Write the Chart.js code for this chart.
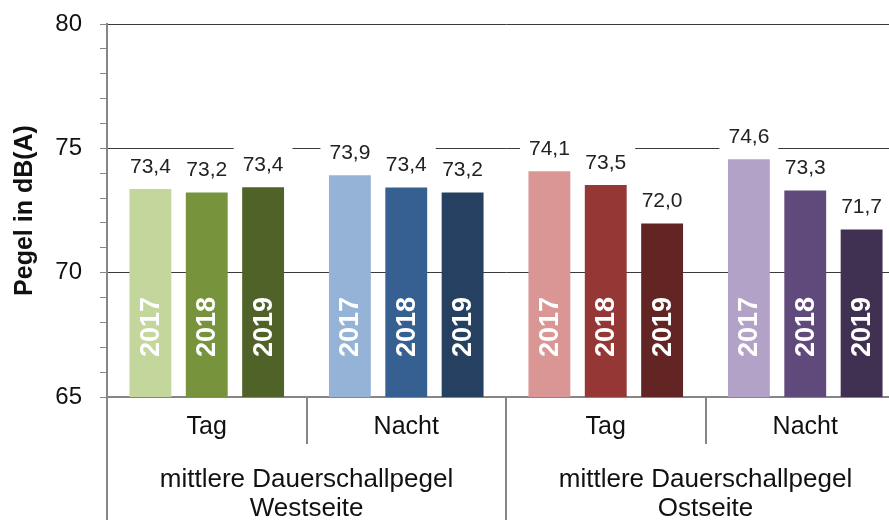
<!DOCTYPE html>
<html>
<head>
<meta charset="utf-8">
<script src="https://cdn.jsdelivr.net/npm/chart.js@4.4.0/dist/chart.umd.min.js"></script>
<style>
  body { margin: 0; overflow: hidden; background: #fff; }
</style>
</head>
<body>
<canvas id="pegelChart" width="905" height="520"></canvas>
<script>
const groups = ["Tag", "Nacht", "Tag", "Nacht"];
const sides = [["mittlere Dauerschallpegel", "Westseite"], ["mittlere Dauerschallpegel", "Ostseite"]];
const years = ["2017", "2018", "2019"];
const values2017 = [73.36, 73.92, 74.08, 74.56];
const values2018 = [73.22, 73.42, 73.53, 73.30];
const values2019 = [73.44, 73.22, 71.98, 71.74];
const colors2017 = ["#c3d69b", "#95b3d7", "#d99694", "#b3a2c7"];
const colors2018 = ["#77933c", "#376092", "#953735", "#604a7b"];
const colors2019 = ["#4f6228", "#254061", "#632523", "#403152"];
const yMin = 65;
const yMax = 80;

const FONT = '"Liberation Sans", Arial, sans-serif';
const AXIS_GRAY = "#868686";

// value labels above bars (white box hides the gridline) + year inside bars
const barLabels = {
  id: "barLabels",
  afterDatasetsDraw(chart) {
    const ctx = chart.ctx;
    const base = chart.scales.y.getPixelForValue(yMin);
    ctx.save();
    chart.data.datasets.forEach((ds, i) => {
      chart.getDatasetMeta(i).data.forEach((bar, j) => {
        ctx.save();
        ctx.translate(bar.x, base - 40);
        ctx.rotate(-Math.PI / 2);
        ctx.font = "bold 27px " + FONT;
        ctx.fillStyle = "#ffffff";
        ctx.textAlign = "left";
        ctx.textBaseline = "middle";
        ctx.fillText(ds.label, 0, 1);
        ctx.restore();

        const txt = ds.data[j].toFixed(1).replace(".", ",");
        ctx.font = "21px " + FONT;
        const w = ctx.measureText(txt).width + 18;
        ctx.fillStyle = "#ffffff";
        ctx.fillRect(bar.x - w / 2, bar.y - 40, w, 36);
        ctx.fillStyle = "#222222";
        ctx.textAlign = "center";
        ctx.textBaseline = "middle";
        ctx.fillText(txt, bar.x, bar.y - 22);
      });
    });
    ctx.restore();
  }
};

// second level of the category axis and the separators
const groupAxis = {
  id: "groupAxis",
  afterDraw(chart) {
    const ctx = chart.ctx;
    const area = chart.chartArea;
    const x = chart.scales.x;
    const step = (area.right - area.left) / groups.length;
    ctx.save();
    ctx.strokeStyle = AXIS_GRAY;
    ctx.lineWidth = 2;
    for (let i = 0; i <= groups.length; i++) {
      const px = Math.round(area.left + i * step);
      const full = i % 2 === 0;
      ctx.beginPath();
      ctx.moveTo(px, area.bottom);
      ctx.lineTo(px, full ? chart.height : area.bottom + 47);
      ctx.stroke();
    }
    ctx.fillStyle = "#111111";
    ctx.font = "26px " + FONT;
    ctx.textAlign = "center";
    ctx.textBaseline = "alphabetic";
    sides.forEach((lines, k) => {
      const cx = (x.getPixelForValue(k * 2) + x.getPixelForValue(k * 2 + 1)) / 2;
      lines.forEach((line, n) => {
        ctx.fillText(line, cx, 487 + n * 29);
      });
    });
    ctx.restore();
  }
};

const chart = new Chart(document.getElementById("pegelChart").getContext("2d"), {
  type: "bar",
  data: {
    labels: groups,
    datasets: [
      { label: years[0], data: values2017, backgroundColor: colors2017 },
      { label: years[1], data: values2018, backgroundColor: colors2018 },
      { label: years[2], data: values2019, backgroundColor: colors2019 }
    ]
  },
  options: {
    responsive: false,
    animation: false,
    devicePixelRatio: 1,
    layout: { padding: { top: 24, right: 0, left: 0, bottom: 0 } },
    categoryPercentage: 0.8475,
    barPercentage: 0.743,
    plugins: {
      legend: { display: false },
      tooltip: { enabled: false }
    },
    scales: {
      x: {
        offset: true,
        afterFit: (scale) => {
          scale.height = 123;
          scale.paddingLeft = 0;
          scale.paddingRight = 0;
        },
        grid: { display: false, drawTicks: false },
        border: { color: AXIS_GRAY, width: 2 },
        ticks: {
          padding: 15,
          color: "#111111",
          font: { family: FONT, size: 25 }
        }
      },
      y: {
        min: yMin,
        max: yMax,
        afterFit: (scale) => {
          scale.width = 107;
          scale.paddingTop = 0;
          scale.paddingBottom = 0;
        },
        title: {
          display: true,
          text: "Pegel in dB(A)",
          color: "#111111",
          font: { family: FONT, size: 25, weight: "bold" },
          padding: { top: 10, bottom: 0 }
        },
        border: { color: AXIS_GRAY, width: 2 },
        grid: {
          color: (c) => (c.tick && c.tick.value % 5 === 0 && c.tick.value !== yMin) ? "#3a3a3a" : "rgba(0,0,0,0)",
          tickColor: AXIS_GRAY,
          tickLength: 7,
          lineWidth: 1
        },
        ticks: {
          stepSize: 1,
          autoSkip: false,
          padding: 18,
          color: "#111111",
          font: { family: FONT, size: 24 },
          callback: (v) => (v % 5 === 0 ? v : "")
        }
      }
    }
  },
  plugins: [barLabels, groupAxis]
});
</script>
</body>
</html>
